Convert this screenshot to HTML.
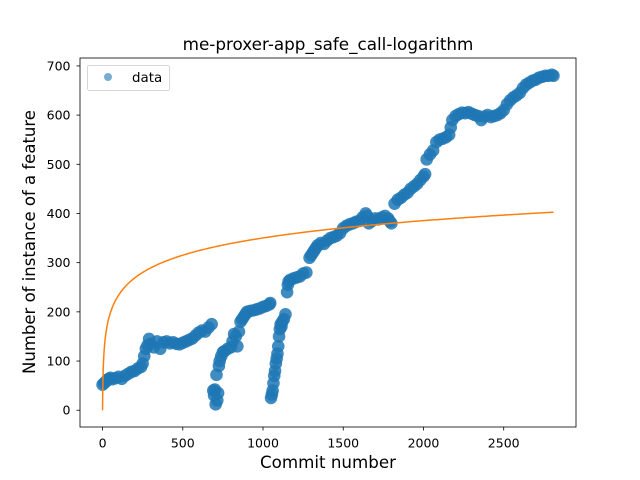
<!DOCTYPE html>
<html><head><meta charset="utf-8"><style>
body{margin:0;background:#fff}
svg{display:block;font-family:"DejaVu Sans","Liberation Sans",sans-serif}
</style></head><body>
<svg id="chart" width="640" height="480" viewBox="0 0 640 480">
<rect x="0" y="0" width="640" height="480" fill="#fff"/>
<g id="points"></g>
<path id="fit" fill="none" stroke="#ff7f0e" stroke-width="1.5"/>
<rect x="80" y="58" width="496" height="369" fill="none" stroke="#000" stroke-width="0.8"/>
<g id="xticks"></g>
<g id="yticks"></g>
<text x="328" y="50" text-anchor="middle" font-size="16.8">me-proxer-app_safe_call-logarithm</text>
<text x="328" y="468" text-anchor="middle" font-size="16.7">Commit number</text>
<text transform="translate(35,242) rotate(-90)" text-anchor="middle" font-size="16.5">Number of instance of a feature</text>
<g>
<rect x="87.5" y="65.5" width="82" height="25" rx="2" fill="#fff" fill-opacity="0.8" stroke="#ccc" stroke-width="0.8"/>
<circle cx="108" cy="77" r="4" fill="#1f77b4" fill-opacity="0.6"/>
<text x="132" y="82" font-size="13.4">data</text>
</g>
</svg>
<script>
const xTicks=[0,500,1000,1500,2000,2500];
const yTicks=[0,100,200,300,400,500,600,700];
const commitX=[0,10,20,30,40,50,60,80,100,120,140,160,180,200,220,240,250,260,270,280,290,300,320,340,360,380,400,420,440,460,480,500,520,540,560,580,600,620,640,660,680,690,695,700,705,710,715,720,725,730,740,750,760,780,800,810,820,830,840,850,860,870,880,890,900,920,940,960,980,1000,1020,1040,1045,1050,1055,1060,1065,1070,1075,1080,1085,1090,1095,1100,1105,1110,1115,1120,1130,1140,1150,1155,1160,1170,1190,1210,1230,1250,1270,1290,1300,1310,1320,1330,1340,1360,1380,1400,1420,1440,1460,1480,1500,1520,1540,1560,1580,1600,1620,1640,1650,1660,1680,1700,1720,1740,1760,1780,1790,1800,1820,1840,1860,1880,1900,1920,1940,1960,1980,2000,2010,2020,2040,2060,2080,2100,2120,2140,2160,2170,2180,2200,2220,2240,2260,2280,2300,2320,2340,2360,2380,2400,2420,2440,2460,2480,2500,2520,2540,2560,2580,2600,2620,2640,2660,2680,2700,2720,2740,2760,2780,2800,2810];
const featureY=[52,55,58,62,64,66,63,65,68,64,70,74,78,80,85,88,95,110,125,132,145,135,128,140,125,138,140,136,138,135,134,137,140,143,146,152,158,162,160,168,175,40,30,42,12,72,20,35,90,100,110,118,120,125,128,140,155,150,130,160,180,185,190,195,200,202,203,205,207,210,212,215,218,25,32,40,55,70,80,95,105,115,130,150,165,175,170,180,185,195,240,255,262,265,268,270,272,278,280,310,315,320,325,330,335,340,338,345,350,352,355,360,370,375,378,380,383,385,392,400,395,380,385,390,388,392,395,390,384,380,420,428,432,438,442,450,455,460,468,475,480,510,520,528,545,550,552,555,560,575,590,598,602,605,604,606,603,600,598,590,597,600,596,598,600,604,610,622,630,636,640,645,655,662,666,670,672,676,678,680,680,682,680,678];
const fitA=50.7;
const fitXmax=2810;
const X0=-140.5,X1=2950.5,Y0=-34.1,Y1=716.1;
const L=80,R=576,T=58,B=427;
const sx=v=>L+(v-X0)/(X1-X0)*(R-L);
const sy=v=>B-(v-Y0)/(Y1-Y0)*(B-T);
const NS='http://www.w3.org/2000/svg';
const pg=document.getElementById('points');
for(let i=0;i<commitX.length;i++){
  const c=document.createElementNS(NS,'circle');
  c.setAttribute('cx',sx(commitX[i]));c.setAttribute('cy',sy(featureY[i]));
  c.setAttribute('r',6.3);c.setAttribute('fill','#1f77b4');c.setAttribute('fill-opacity','0.85');
  
  
  pg.appendChild(c);
}
let d='';
for(let x=0;x<=fitXmax;x+=(x<50?1:10)){
  d+=(d?'L':'M')+sx(x).toFixed(2)+','+sy(fitA*Math.log(x+1)).toFixed(2);
}
document.getElementById('fit').setAttribute('d',d);
const xg=document.getElementById('xticks');
xTicks.forEach(t=>{
  const l=document.createElementNS(NS,'line');
  l.setAttribute('x1',sx(t));l.setAttribute('x2',sx(t));l.setAttribute('y1',B);l.setAttribute('y2',B+3.5);l.setAttribute('stroke','#000');l.setAttribute('stroke-width','0.8');
  
  
  xg.appendChild(l);
  const tx=document.createElementNS(NS,'text');
  tx.setAttribute('x',sx(t));tx.setAttribute('y',B+20.5);tx.setAttribute('text-anchor','middle');tx.setAttribute('font-size','12.5');
  tx.textContent=t;
  
  
  xg.appendChild(tx);
});
const yg=document.getElementById('yticks');
yTicks.forEach(t=>{
  const l=document.createElementNS(NS,'line');
  l.setAttribute('x1',L-3.5);l.setAttribute('x2',L);l.setAttribute('y1',sy(t));l.setAttribute('y2',sy(t));l.setAttribute('stroke','#000');l.setAttribute('stroke-width','0.8');
  
  
  yg.appendChild(l);
  const tx=document.createElementNS(NS,'text');
  tx.setAttribute('x',L-9.5);tx.setAttribute('y',sy(t)+4.5);tx.setAttribute('text-anchor','end');tx.setAttribute('font-size','12.5');
  tx.textContent=t;
  
  
  yg.appendChild(tx);
});
</script>
</body></html>
